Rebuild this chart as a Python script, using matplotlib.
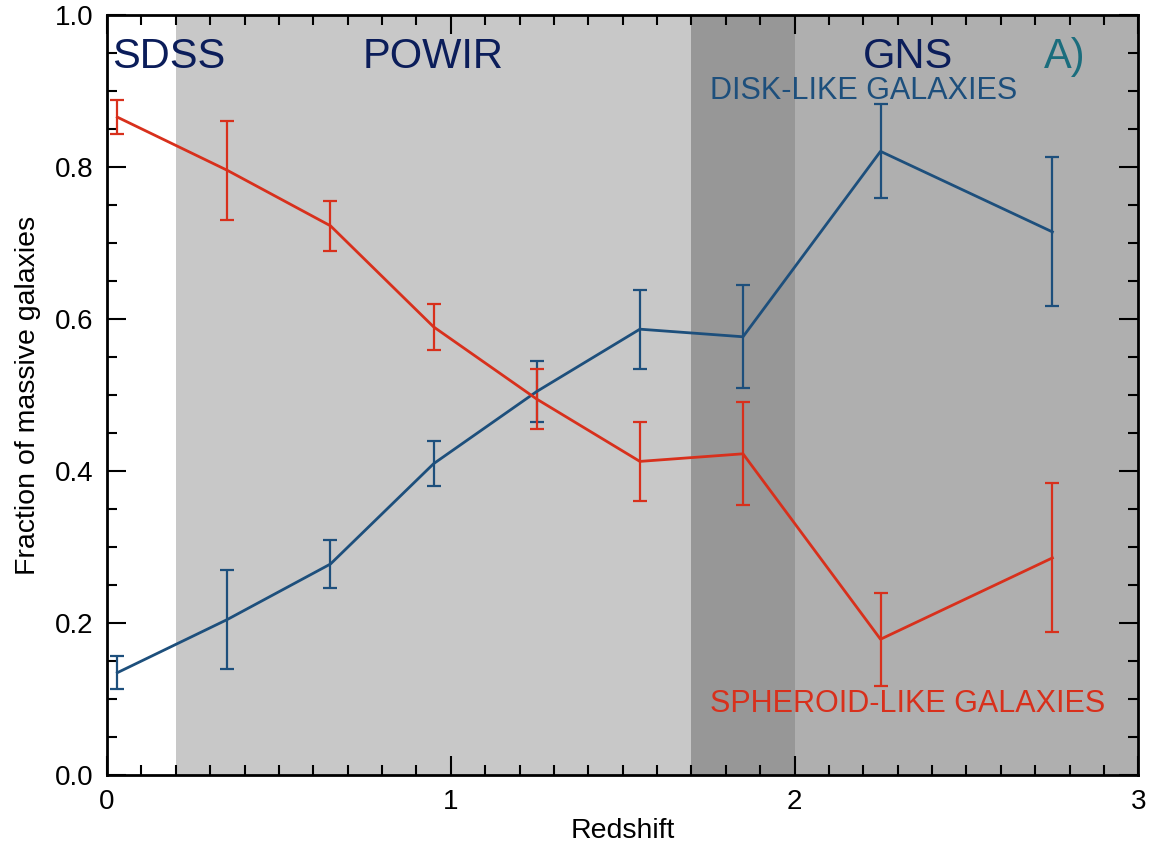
import matplotlib
matplotlib.use("Agg")
import matplotlib.pyplot as plt
from matplotlib.ticker import MultipleLocator

plt.rcParams["font.family"] = ["Liberation Sans", "DejaVu Sans"]

# redshift bins
z = [0.03, 0.35, 0.65, 0.95, 1.25, 1.55, 1.85, 2.25, 2.75]

# disk-like fraction and error
disk = [0.135, 0.205, 0.278, 0.41, 0.505, 0.587, 0.577, 0.821, 0.715]
disk_err = [0.022, 0.065, 0.032, 0.03, 0.04, 0.052, 0.068, 0.062, 0.098]

# spheroid-like fraction and error
sph = [0.866, 0.796, 0.723, 0.59, 0.495, 0.413, 0.423, 0.179, 0.286]
sph_err = [0.022, 0.065, 0.033, 0.03, 0.04, 0.052, 0.068, 0.061, 0.098]

BLUE = "#1d4f7c"
RED = "#d8301c"
NAVY = "#0b1d5a"

fig = plt.figure(figsize=(11.51, 8.51), dpi=100)
ax = fig.add_axes([0.093, 0.089, 0.896, 0.893])

# survey regions
ax.axvspan(0.2, 1.7, color="#c8c8c8", lw=0, zorder=0)
ax.axvspan(1.7, 2.0, color="#979797", lw=0, zorder=0)
ax.axvspan(2.0, 3.0, color="#afafaf", lw=0, zorder=0)

ax.errorbar(z, disk, yerr=disk_err, color=BLUE, lw=2, elinewidth=1.6,
            capsize=5, capthick=1.6, zorder=3)
ax.errorbar(z, sph, yerr=sph_err, color=RED, lw=2, elinewidth=1.6,
            capsize=5, capthick=1.6, zorder=3)

ax.set_xlim(0, 3)
ax.set_ylim(0, 1)
ax.xaxis.set_major_locator(MultipleLocator(1))
ax.xaxis.set_minor_locator(MultipleLocator(0.1))
ax.yaxis.set_major_locator(MultipleLocator(0.2))
ax.yaxis.set_minor_locator(MultipleLocator(0.05))
ax.yaxis.set_major_formatter(plt.FormatStrFormatter("%.1f"))
ax.tick_params(which="both", direction="in", top=True, right=True,
               width=1.5, labelsize=20, pad=10)
ax.tick_params(which="major", length=14)
ax.tick_params(which="minor", length=7)
for s in ax.spines.values():
    s.set_linewidth(2)

ax.set_xlabel("Redshift", fontsize=20.5, labelpad=2)
ax.set_ylabel("Fraction of massive galaxies", fontsize=20.5, labelpad=10)

ax.text(0.015, 0.945, "SDSS", color=NAVY, fontsize=30, ha="left", va="center")
ax.text(0.95, 0.945, "POWIR", color=NAVY, fontsize=30, ha="center", va="center")
ax.text(2.33, 0.945, "GNS", color=NAVY, fontsize=30, ha="center", va="center")
ax.text(2.785, 0.945, "A)", color="#1b6d7d", fontsize=30, ha="center", va="center")
ax.text(2.2, 0.9, "DISK-LIKE GALAXIES", color=BLUE, fontsize=22,
        ha="center", va="center")
ax.text(2.33, 0.094, "SPHEROID-LIKE GALAXIES", color=RED, fontsize=22,
        ha="center", va="center")

fig.savefig("out.png", dpi=100)
